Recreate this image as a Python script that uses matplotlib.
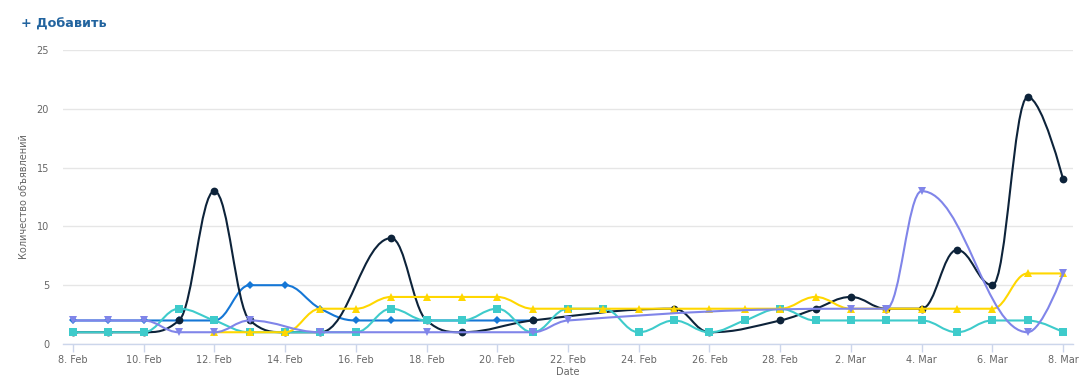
import matplotlib
matplotlib.use("Agg")
import matplotlib.pyplot as plt
from matplotlib.path import Path
from matplotlib.patches import PathPatch

# ---- data ----
dates = ["8. Feb", "9. Feb", "10. Feb", "11. Feb", "12. Feb", "13. Feb", "14. Feb",
         "15. Feb", "16. Feb", "17. Feb", "18. Feb", "19. Feb", "20. Feb", "21. Feb",
         "22. Feb", "23. Feb", "24. Feb", "25. Feb", "26. Feb", "27. Feb", "28. Feb",
         "1. Mar", "2. Mar", "3. Mar", "4. Mar", "5. Mar", "6. Mar", "7. Mar", "8. Mar"]
N = None
navy = [1, 1, 1, 2, 13, 2, 1, 1, N, 9, 2, 1, N, 2, N, N, N, 3, 1, N, 2, 3, 4, 3, 3, 8, 5, 21, 14]
blue = [2, 2, 2, 2, 2, 5, 5, 3, 2, 2, 2, 2, 2, 2, N, N, N, N, N, N, N, N, N, N, N, N, N, N, N]
yellow = [N, N, N, N, 1, 1, 1, 3, 3, 4, 4, 4, 4, 3, 3, 3, 3, 3, 3, 3, 3, 4, 3, 3, 3, 3, 3, 6, 6]
teal = [1, 1, 1, 3, 2, 1, 1, 1, 1, 3, 2, 2, 3, 1, 3, 3, 1, 2, 1, 2, 3, 2, 2, 2, 2, 1, 2, 2, 1]
purple = [2, 2, 2, 1, 1, 2, N, 1, N, N, 1, N, N, 1, 2, N, N, N, N, N, N, N, 3, 3, 13, N, N, 1, 6]

yticks = [0, 5, 10, 15, 20, 25]
title = "+ Добавить"
ylabel = "Количество объявлений"
xlabel = "Date"

series = [
    # values, color, marker, markersize, zorder
    (blue, "#1577d6", "D", 4.0, 3),
    (navy, "#0d233a", "o", 5.6, 4),
    (teal, "#3ecbcb", "s", 5.6, 5),
    (yellow, "#ffd700", "^", 6.2, 6),
    (purple, "#8085e9", "v", 6.2, 7),
]


def hc_spline(xs, ys, smoothing=1.5):
    n = len(xs)
    left = [(xs[i], ys[i]) for i in range(n)]
    right = [(xs[i], ys[i]) for i in range(n)]
    denom = smoothing + 1
    for i in range(1, n - 1):
        px, py = xs[i], ys[i]
        lx, ly = xs[i - 1], ys[i - 1]
        nx, ny = xs[i + 1], ys[i + 1]
        lcx = (smoothing * px + lx) / denom
        lcy = (smoothing * py + ly) / denom
        rcx = (smoothing * px + nx) / denom
        rcy = (smoothing * py + ny) / denom
        if rcx != lcx:
            corr = ((rcy - lcy) * (rcx - px)) / (rcx - lcx) + py - rcy
            lcy += corr
            rcy += corr
        if lcy > ly and lcy > py:
            lcy = max(ly, py)
            rcy = 2 * py - lcy
        elif lcy < ly and lcy < py:
            lcy = min(ly, py)
            rcy = 2 * py - lcy
        if rcy > ny and rcy > py:
            rcy = max(ny, py)
            lcy = 2 * py - rcy
        elif rcy < ny and rcy < py:
            rcy = min(ny, py)
            lcy = 2 * py - rcy
        left[i] = (lcx, lcy)
        right[i] = (rcx, rcy)
    verts = [(xs[0], ys[0])]
    codes = [Path.MOVETO]
    for i in range(1, n):
        verts += [right[i - 1], left[i], (xs[i], ys[i])]
        codes += [Path.CURVE4] * 3
    return Path(verts, codes)


fig = plt.figure(figsize=(10.88, 3.78), dpi=100)
ax = fig.add_axes([63 / 1088, 1 - 344 / 378, (1073 - 63) / 1088, (344 - 50) / 378])

for vals, color, marker, ms, z in series:
    xs = [i for i, v in enumerate(vals) if v is not None]
    ys = [v for v in vals if v is not None]
    path = hc_spline(xs, ys)
    ax.add_patch(PathPatch(path, facecolor="none", edgecolor=color, lw=1.5,
                           zorder=z, capstyle="round", joinstyle="round"))
    ax.plot(xs, ys, linestyle="none", marker=marker, markersize=ms,
            color=color, markeredgewidth=0, zorder=z + 0.5)

ax.set_xlim(-0.28, len(dates) - 1 + 0.28)
ax.set_ylim(0, 25)
ax.set_yticks(yticks)
ax.set_yticklabels([str(t) for t in yticks])
tick_idx = list(range(0, len(dates), 2))
ax.set_xticks(tick_idx)
ax.set_xticklabels([dates[i] for i in tick_idx])

ax.grid(axis="y", color="#e6e6e6", lw=1)
ax.set_axisbelow(True)
for s in ["top", "right", "left"]:
    ax.spines[s].set_visible(False)
ax.spines["bottom"].set_color("#ccd6eb")
ax.spines["bottom"].set_linewidth(1)
ax.spines["bottom"].set_zorder(2.5)
ax.tick_params(axis="y", length=0, pad=10, labelsize=7, labelcolor="#666666")
ax.tick_params(axis="x", length=6, width=1, color="#ccd6eb", pad=2,
               labelsize=7, labelcolor="#666666")

fig.text(24 / 1088, 1 - 197 / 378, ylabel, rotation=90, ha="center", va="center",
         fontsize=7, color="#666666")
fig.text(568 / 1088, 1 - 377 / 378, xlabel, ha="center", va="bottom",
         fontsize=7, color="#666666")
fig.text(21 / 1088, 1 - 24 / 378, title, ha="left", va="center",
         fontsize=9.2, fontweight="bold", color="#22649f")

fig.savefig("out.png", dpi=100)
